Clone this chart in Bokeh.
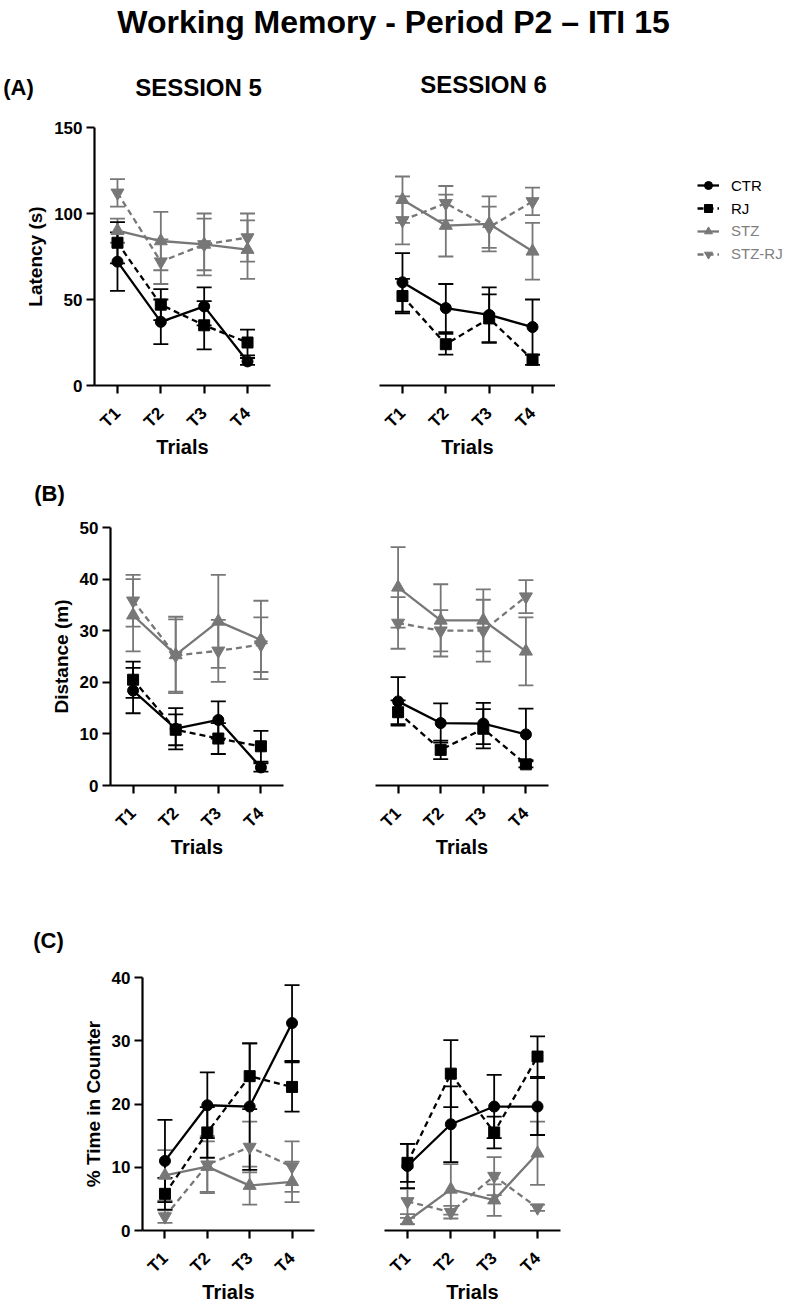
import math
import numpy as np
from bokeh.plotting import figure
from bokeh.models import (ColumnDataSource, Whisker, TeeHead, Label, Legend,
                          LegendItem, Range1d, FixedTicker)
from bokeh.layouts import column, row
from bokeh.embed import file_html
from bokeh.resources import INLINE

# ---------------- data ----------------
trials = ["T1", "T2", "T3", "T4"]
groups = ["CTR", "RJ", "STZ", "STZ-RJ"]

# (A) Latency (s)
lat_s5_ctr = [72, 37, 46, 14]
lat_s5_ctr_sem = [17, 13, 11, 2]
lat_s5_rj = [83, 47, 35, 25]
lat_s5_rj_sem = [12, 9, 14, 7.5]
lat_s5_stz = [90, 84, 82, 79]
lat_s5_stz_sem = [7, 17, 18, 17]
lat_s5_stzrj = [112, 72, 82, 86]
lat_s5_stzrj_sem = [8, 13, 15, 14]

lat_s6_ctr = [60, 45, 41, 34]
lat_s6_ctr_sem = [17, 14, 16, 16]
lat_s6_rj = [52, 24, 39, 15]
lat_s6_rj_sem = [10, 6, 14, 3]
lat_s6_stz = [108, 93, 94, 78]
lat_s6_stz_sem = [13.5, 18, 16, 16.5]
lat_s6_stzrj = [96, 106, 92, 107]
lat_s6_stzrj_sem = [14, 10, 12, 8]

# (B) Distance (m)
dist_s5_ctr = [18.4, 11.0, 12.7, 3.5]
dist_s5_ctr_sem = [4.4, 4.0, 3.6, 0.8]
dist_s5_rj = [20.5, 10.8, 9.1, 7.6]
dist_s5_rj_sem = [3.5, 3.0, 3.0, 3.0]
dist_s5_stz = [33.0, 25.3, 31.8, 28.2]
dist_s5_stz_sem = [7.0, 7.4, 9.0, 7.6]
dist_s5_stzrj = [35.8, 25.2, 26.1, 27.3]
dist_s5_stzrj_sem = [5.0, 7.0, 6.0, 5.3]

dist_s6_ctr = [16.3, 12.1, 12.0, 9.9]
dist_s6_ctr_sem = [4.7, 3.8, 4.0, 5.0]
dist_s6_rj = [14.2, 6.9, 11.0, 4.1]
dist_s6_rj_sem = [2.3, 1.8, 3.8, 0.6]
dist_s6_stz = [38.4, 32.0, 32.0, 26.0]
dist_s6_stz_sem = [7.8, 7.0, 6.0, 6.6]
dist_s6_stzrj = [31.5, 30.0, 30.0, 36.6]
dist_s6_stzrj_sem = [5.0, 4.0, 6.0, 3.2]

# (C) % Time in Counter
tic_s5_ctr = [11.0, 19.8, 19.6, 32.8]
tic_s5_ctr_sem = [6.5, 5.2, 10.0, 6.0]
tic_s5_rj = [5.8, 15.5, 24.4, 22.7]
tic_s5_rj_sem = [2.5, 4.0, 5.2, 3.9]
tic_s5_stz = [8.7, 10.1, 7.1, 7.7]
tic_s5_stz_sem = [4.0, 4.0, 3.0, 3.2]
tic_s5_stzrj = [2.2, 10.4, 13.2, 10.1]
tic_s5_stzrj_sem = [1.0, 4.5, 4.0, 4.0]

tic_s6_ctr = [10.2, 16.8, 19.6, 19.6]
tic_s6_ctr_sem = [3.5, 6.0, 5.0, 4.5]
tic_s6_rj = [10.7, 24.8, 15.5, 27.5]
tic_s6_rj_sem = [3.0, 5.3, 2.5, 3.2]
tic_s6_stz = [1.5, 6.5, 4.8, 12.2]
tic_s6_stz_sem = [0.5, 4.0, 2.5, 5.0]
tic_s6_stzrj = [4.6, 2.9, 8.6, 3.6]
tic_s6_stzrj_sem = [2.0, 1.0, 3.0, 0.5]

# ---------------- styles ----------------
FONT = "Liberation Sans"
BLACK = "#000000"
GRAY = "#777777"
STYLE = {
    "CTR":    dict(color=BLACK, dash="solid", marker="circle", size=11),
    "RJ":     dict(color=BLACK, dash="6 4", marker="square", size=11),
    "STZ":    dict(color=GRAY, dash="solid", marker="triangle", size=13),
    "STZ-RJ": dict(color=GRAY, dash="6 4", marker="inverted_triangle", size=13),
}
DRAW_ORDER = ["STZ", "STZ-RJ", "CTR", "RJ"]
XPOS = [i + 1 for i in range(len(trials))]
X_LO, X_HI = 0.47, len(trials) + 0.53
W = 787


def panel(vals, sems, y_end, y_step, fw, fh, lb, rb, tb, bb, show_y, ylabel):
    p = figure(x_range=Range1d(X_LO, X_HI),
               y_range=Range1d(0, y_end),
               frame_width=fw, frame_height=fh,
               min_border_left=lb, min_border_right=rb,
               min_border_top=tb, min_border_bottom=bb,
               y_axis_location="left" if show_y else None,
               output_backend="svg", toolbar_location=None,
               outline_line_color=None, background_fill_color="white",
               border_fill_color="white")
    p.grid.visible = False

    xa = p.xaxis[0]
    xa.ticker = FixedTicker(ticks=XPOS)
    xa.major_label_overrides = {x: t for x, t in zip(XPOS, trials)}
    xa.axis_line_width = 2.2
    xa.major_tick_line_width = 2.2
    xa.major_tick_out = 8
    xa.major_tick_in = 0
    xa.minor_tick_line_color = None
    xa.major_label_orientation = math.pi / 4
    xa.major_label_standoff = 17
    xa.major_label_text_font = FONT
    xa.major_label_text_font_style = "bold"
    xa.major_label_text_font_size = "17px"
    xa.major_label_text_color = BLACK
    xa.axis_label = "Trials"
    xa.axis_label_text_font = FONT
    xa.axis_label_text_font_style = "bold"
    xa.axis_label_text_font_size = "20px"
    xa.axis_label_standoff = -5
    xa.axis_label_text_color = BLACK

    if show_y:
        ya = p.yaxis[0]
        ya.ticker = FixedTicker(ticks=list(range(0, y_end + 1, y_step)))
        ya.axis_line_width = 2.2
        ya.major_tick_line_width = 2.2
        ya.major_tick_out = 8
        ya.major_tick_in = 0
        ya.minor_tick_line_color = None
        ya.major_label_standoff = 4
        ya.major_label_text_font = FONT
        ya.major_label_text_font_style = "bold"
        ya.major_label_text_font_size = "17px"
        ya.major_label_text_color = BLACK
        ya.axis_label = ylabel
        ya.axis_label_text_font = FONT
        ya.axis_label_text_font_style = "bold"
        ya.axis_label_text_font_size = "19px"
        ya.axis_label_standoff = 5
        ya.axis_label_text_color = BLACK

    for g in DRAW_ORDER:
        st = STYLE[g]
        v = vals[g]
        s = sems[g]
        src = ColumnDataSource(dict(
            x=XPOS, y=v,
            upper=[a + b for a, b in zip(v, s)],
            lower=[max(a - b, 0) for a, b in zip(v, s)]))
        w = Whisker(source=src, base="x", upper="upper", lower="lower",
                    dimension="height", line_color=st["color"], line_width=1.8,
                    upper_head=TeeHead(size=15, line_color=st["color"], line_width=1.8),
                    lower_head=TeeHead(size=15, line_color=st["color"], line_width=1.8))
        p.add_layout(w)
        p.line("x", "y", source=src, line_color=st["color"], line_width=2.3,
               line_dash=st["dash"])
        p.scatter("x", "y", source=src, marker=st["marker"], size=st["size"],
                  fill_color=st["color"], line_color=st["color"])
    return p


def strip(w, h):
    s = figure(width=w, height=h, x_range=Range1d(0, w), y_range=Range1d(0, h),
               min_border=0, output_backend="svg", toolbar_location=None,
               outline_line_color=None, x_axis_location=None, y_axis_location=None)
    s.grid.visible = False
    return s


def add_text(p, text, x, y, size, style="bold", color=BLACK, align="center"):
    p.add_layout(Label(x=x, y=y, text=text,
                       text_font=FONT, text_font_size=size, text_font_style=style,
                       text_color=color, text_align=align, text_baseline="middle"))


# ---------------- header + row A labels ----------------
hA = 115
header = strip(W, hA)
add_text(header, "Working Memory - Period P2 \u2013 ITI 15", 393, hA - 21, "32px")
add_text(header, "(A)", 18, hA - 87, "22px")
add_text(header, "SESSION 5", 198, hA - 87, "24px")
add_text(header, "SESSION 6", 483, hA - 84, "24px")

# ---------------- row A ----------------
a5 = panel({"CTR": lat_s5_ctr, "RJ": lat_s5_rj, "STZ": lat_s5_stz, "STZ-RJ": lat_s5_stzrj},
           {"CTR": lat_s5_ctr_sem, "RJ": lat_s5_rj_sem, "STZ": lat_s5_stz_sem, "STZ-RJ": lat_s5_stzrj_sem},
           150, 50, 176, 258, 94, 68, 12, 80, True, "Latency (s)")
a6 = panel({"CTR": lat_s6_ctr, "RJ": lat_s6_rj, "STZ": lat_s6_stz, "STZ-RJ": lat_s6_stzrj},
           {"CTR": lat_s6_ctr_sem, "RJ": lat_s6_rj_sem, "STZ": lat_s6_stz_sem, "STZ-RJ": lat_s6_stzrj_sem},
           150, 50, 176, 258, 41, 0, 12, 80, False, "")

# legend panel: key renderers carry no visible data (NaN), only their style
rowA_h = 12 + 258 + 80
leg_fig = strip(W - 555, rowA_h)
leg_items = {}
for g in groups:
    st = STYLE[g]
    key_src = ColumnDataSource(dict(x=np.array([np.nan]), y=np.array([np.nan])))
    lr = leg_fig.line("x", "y", source=key_src, line_color=st["color"], line_width=2.3,
                      line_dash=st["dash"])
    sr = leg_fig.scatter("x", "y", source=key_src, marker=st["marker"], size=st["size"],
                         fill_color=st["color"], line_color=st["color"])
    leg_items[g] = LegendItem(label=g, renderers=[lr, sr])
leg_common = dict(label_text_font=FONT, label_text_font_size="15px",
                  glyph_width=22, glyph_height=20, label_height=20,
                  label_standoff=12, spacing=3, padding=0, margin=0,
                  border_line_color=None, background_fill_alpha=0)
# frame of leg_fig is aligned with the panels' frames (bottom at axis line)
leg1 = Legend(items=[leg_items["CTR"], leg_items["RJ"]],
              location=(142, 167), label_text_color=BLACK, **leg_common)
leg2 = Legend(items=[leg_items["STZ"], leg_items["STZ-RJ"]],
              location=(142, 121.5), label_text_color="#808080", **leg_common)
leg_fig.add_layout(leg1)
leg_fig.add_layout(leg2)

# ---------------- row B ----------------
hB = 50
stripB = strip(W, hB)
add_text(stripB, "(B)", 49, hB - 28, "22px")
b5 = panel({"CTR": dist_s5_ctr, "RJ": dist_s5_rj, "STZ": dist_s5_stz, "STZ-RJ": dist_s5_stzrj},
           {"CTR": dist_s5_ctr_sem, "RJ": dist_s5_rj_sem, "STZ": dist_s5_stz_sem, "STZ-RJ": dist_s5_stzrj_sem},
           50, 10, 173, 258, 110, 55, 12, 75, True, "Distance (m)")
b6 = panel({"CTR": dist_s6_ctr, "RJ": dist_s6_rj, "STZ": dist_s6_stz, "STZ-RJ": dist_s6_stzrj},
           {"CTR": dist_s6_ctr_sem, "RJ": dist_s6_rj_sem, "STZ": dist_s6_stz_sem, "STZ-RJ": dist_s6_stzrj_sem},
           50, 10, 173, 258, 37, 239, 12, 75, False, "")

# ---------------- row C ----------------
hC = 105
stripC = strip(W, hC)
add_text(stripC, "(C)", 48, hC - 80, "22px")
c5 = panel({"CTR": tic_s5_ctr, "RJ": tic_s5_rj, "STZ": tic_s5_stz, "STZ-RJ": tic_s5_stzrj},
           {"CTR": tic_s5_ctr_sem, "RJ": tic_s5_rj_sem, "STZ": tic_s5_stz_sem, "STZ-RJ": tic_s5_stzrj_sem},
           40, 10, 172, 253, 142, 24, 12, 71, True, "% Time in Counter")
c6 = panel({"CTR": tic_s6_ctr, "RJ": tic_s6_rj, "STZ": tic_s6_stz, "STZ-RJ": tic_s6_stzrj},
           {"CTR": tic_s6_ctr_sem, "RJ": tic_s6_rj_sem, "STZ": tic_s6_stz_sem, "STZ-RJ": tic_s6_stzrj_sem},
           40, 10, 176, 253, 46, 227, 12, 71, False, "")

layout = column(header, row(a5, a6, leg_fig), stripB, row(b5, b6), stripC, row(c5, c6))
open("out.html", "w").write(file_html(layout, INLINE))
